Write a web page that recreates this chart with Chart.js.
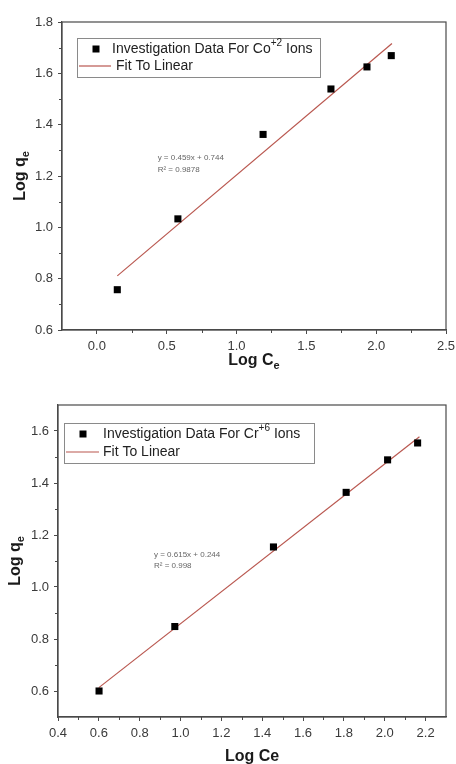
<!DOCTYPE html>
<html>
<head>
<meta charset="utf-8">
<script src="https://cdn.jsdelivr.net/npm/chart.js@4.4.1/dist/chart.umd.min.js"></script>
<style>
  html, body { margin: 0; padding: 0; background: #fff; }
  .wrap { position: absolute; left: 0; width: 456px; }
  #w1 { top: 0; height: 380px; }
  #w2 { top: 380px; height: 384px; }
  canvas { display: block; }
</style>
</head>
<body>
<div class="wrap" id="w1"><canvas id="c1" width="456" height="380"></canvas></div>
<div class="wrap" id="w2"><canvas id="c2" width="456" height="384"></canvas></div>
<script>
// --- Co(+2) isotherm data ---
const coLogCe = [0.146, 0.58, 1.19, 1.676, 1.934, 2.108];
const coLogQe = [0.757, 1.033, 1.362, 1.539, 1.625, 1.669];
const coFitX = [0.146, 2.113];
const coFitY = [0.811, 1.716];
const coXTicks = [0, 0.5, 1.0, 1.5, 2.0, 2.5];
const coXMinor = [0.25, 0.75, 1.25, 1.75, 2.25];
const coYTicks = [0.6, 0.8, 1.0, 1.2, 1.4, 1.6, 1.8];
const coYMinor = [0.7, 0.9, 1.1, 1.3, 1.5, 1.7];
const coEquation = ['y = 0.459x + 0.744', 'R² = 0.9878'];

// --- Cr(+6) isotherm data ---
const crLogCe = [0.601, 0.972, 1.455, 1.811, 2.014, 2.161];
const crLogQe = [0.600, 0.848, 1.154, 1.364, 1.489, 1.554];
const crFitX = [0.60, 2.17];
const crFitY = [0.613, 1.578];
const crXTicks = [0.4, 0.6, 0.8, 1.0, 1.2, 1.4, 1.6, 1.8, 2.0, 2.2];
const crXMinor = [0.5, 0.7, 0.9, 1.1, 1.3, 1.5, 1.7, 1.9, 2.1];
const crYTicks = [0.6, 0.8, 1.0, 1.2, 1.4, 1.6];
const crYMinor = [0.7, 0.9, 1.1, 1.3, 1.5];
const crEquation = ['y = 0.615x + 0.244', 'R² = 0.998'];

const FONT = '"Liberation Sans", Arial, sans-serif';
const AXIS = '#4a4a4a';
const FIT = '#b9574f';

// draws text made of [string, 'sub'|'sup'|undefined] parts, vertically centred on y
function drawRich(ctx, parts, x, y, size, weight, align) {
  const fontOf = p => `${weight} ${p[1] ? Math.round(size * 0.7) : size}px ${FONT}`;
  let w = 0;
  parts.forEach(p => { ctx.font = fontOf(p); w += ctx.measureText(p[0]).width; });
  let cx = align === 'center' ? x - w / 2 : x;
  ctx.textAlign = 'left';
  ctx.textBaseline = 'middle';
  parts.forEach(p => {
    ctx.font = fontOf(p);
    const dy = p[1] === 'sub' ? size * 0.32 : p[1] === 'sup' ? -size * 0.38 : 0;
    ctx.fillText(p[0], cx, y + dy);
    cx += ctx.measureText(p[0]).width;
  });
}

const decor = {
  id: 'decor',
  afterDraw(chart, args, o) {
    const { ctx, chartArea: a, scales: { x, y } } = chart;
    ctx.save();
    // frame
    ctx.strokeStyle = AXIS;
    ctx.lineWidth = 1.2;
    ctx.strokeRect(a.left, a.top, a.right - a.left, a.bottom - a.top);
    // minor ticks
    ctx.lineWidth = 1;
    ctx.beginPath();
    o.xMinor.forEach(v => {
      const px = Math.round(x.getPixelForValue(v)) + 0.5;
      ctx.moveTo(px, a.bottom); ctx.lineTo(px, a.bottom + 3);
    });
    o.yMinor.forEach(v => {
      const py = Math.round(y.getPixelForValue(v)) + 0.5;
      ctx.moveTo(a.left, py); ctx.lineTo(a.left - 3, py);
    });
    ctx.stroke();

    // axis titles
    ctx.fillStyle = '#1a1a1a';
    drawRich(ctx, o.xTitle, (a.left + a.right) / 2, o.xTitleY, 16, 'bold', 'center');
    ctx.save();
    ctx.translate(o.yTitleX, (a.top + a.bottom) / 2);
    ctx.rotate(-Math.PI / 2);
    drawRich(ctx, o.yTitle, 0, 0, 16, 'bold', 'center');
    ctx.restore();

    // legend
    const L = o.legend;
    const bx = a.left + L.dx, by = a.top + L.dy;
    ctx.strokeStyle = '#8a8a8a';
    ctx.lineWidth = 1;
    ctx.strokeRect(bx + 0.5, by + 0.5, L.w, L.h);
    ctx.fillStyle = '#000';
    ctx.fillRect(bx + L.markX - 3.5, by + L.row1 - 3.5, 7, 7);
    ctx.fillStyle = '#222';
    drawRich(ctx, L.label, bx + L.textX, by + L.row1, 14, 'normal', 'left');
    ctx.strokeStyle = FIT;
    ctx.lineWidth = 1.2;
    ctx.beginPath();
    ctx.moveTo(bx + 2, by + L.row2); ctx.lineTo(bx + L.lineEnd, by + L.row2);
    ctx.stroke();
    drawRich(ctx, [['Fit To Linear']], bx + L.textX + L.fitShift, by + L.row2, 14, 'normal', 'left');

    // fit equation
    ctx.fillStyle = '#666';
    const ex = x.getPixelForValue(o.eqAt[0]), ey = y.getPixelForValue(o.eqAt[1]);
    o.equation.forEach((t, i) => drawRich(ctx, [[t]], ex, ey + i * 11.5, 8, 'normal', 'left'));
    ctx.restore();
  }
};

function makeChart(id, d) {
  return new Chart(document.getElementById(id), {
    type: 'scatter',
    data: {
      datasets: [
        {
          label: 'data',
          data: d.xs.map((v, i) => ({ x: v, y: d.ys[i] })),
          pointStyle: 'rect',
          pointRadius: 5,
          pointBackgroundColor: '#000',
          pointBorderColor: '#000',
          pointBorderWidth: 0
        },
        {
          label: 'fit',
          data: d.fx.map((v, i) => ({ x: v, y: d.fy[i] })),
          showLine: true,
          borderColor: FIT,
          borderWidth: 1.2,
          pointRadius: 0
        }
      ]
    },
    options: {
      responsive: false,
      animation: false,
      layout: { padding: { left: 0, top: d.padTop, right: 10, bottom: 0 } },
      plugins: { legend: { display: false }, tooltip: { enabled: false }, decor: d.decor },
      scales: {
        x: {
          type: 'linear', min: d.xMin, max: d.xMax,
          afterBuildTicks: s => { s.ticks = d.xTicks.map(v => ({ value: v })); },
          afterFit: s => { s.height = d.xHeight; s.paddingLeft = 0; s.paddingRight = 0; },
          grid: { drawOnChartArea: false, tickLength: 4, tickColor: AXIS, color: AXIS },
          border: { color: AXIS, width: 1.2 },
          ticks: { padding: 5, color: '#3a3a3a', maxRotation: 0, autoSkip: false,
                   font: { size: 13, family: FONT }, callback: v => v.toFixed(1) }
        },
        y: {
          type: 'linear', min: d.yMin, max: d.yMax,
          afterBuildTicks: s => { s.ticks = d.yTicks.map(v => ({ value: v })); },
          afterFit: s => { s.width = d.yWidth; s.paddingTop = 0; s.paddingBottom = 0; },
          grid: { drawOnChartArea: false, tickLength: 4, tickColor: AXIS, color: AXIS },
          border: { color: AXIS, width: 1.2 },
          ticks: { padding: 5, color: '#3a3a3a', autoSkip: false,
                   font: { size: 13, family: FONT }, callback: v => v.toFixed(1) }
        }
      }
    },
    plugins: [decor]
  });
}

makeChart('c1', {
  xs: coLogCe, ys: coLogQe, fx: coFitX, fy: coFitY,
  xMin: -0.25, xMax: 2.5, yMin: 0.6, yMax: 1.8,
  xTicks: coXTicks, yTicks: coYTicks,
  padTop: 22, xHeight: 50, yWidth: 62,
  decor: {
    xMinor: coXMinor, yMinor: coYMinor,
    xTitle: [['Log C'], ['e', 'sub']], xTitleY: 361,
    yTitle: [['Log q'], ['e', 'sub']], yTitleX: 21,
    legend: { dx: 15, dy: 16, w: 243, h: 39, markX: 19, row1: 11, row2: 28,
              textX: 35, fitShift: 4, lineEnd: 34,
              label: [['Investigation Data For Co'], ['+2', 'sup'], [' Ions']] },
    equation: coEquation, eqAt: [0.435, 1.27]
  }
});

makeChart('c2', {
  xs: crLogCe, ys: crLogQe, fx: crFitX, fy: crFitY,
  xMin: 0.4, xMax: 2.3, yMin: 0.5, yMax: 1.7,
  xTicks: crXTicks, yTicks: crYTicks,
  padTop: 25, xHeight: 47, yWidth: 58,
  decor: {
    xMinor: crXMinor, yMinor: crYMinor,
    xTitle: [['Log Ce']], xTitleY: 377,
    yTitle: [['Log q'], ['e', 'sub']], yTitleX: 16,
    legend: { dx: 6, dy: 18, w: 250, h: 40, markX: 19, row1: 11, row2: 29,
              textX: 39, fitShift: 0, lineEnd: 35,
              label: [['Investigation Data For Cr'], ['+6', 'sup'], [' Ions']] },
    equation: crEquation, eqAt: [0.87, 1.125]
  }
});
</script>
</body>
</html>
